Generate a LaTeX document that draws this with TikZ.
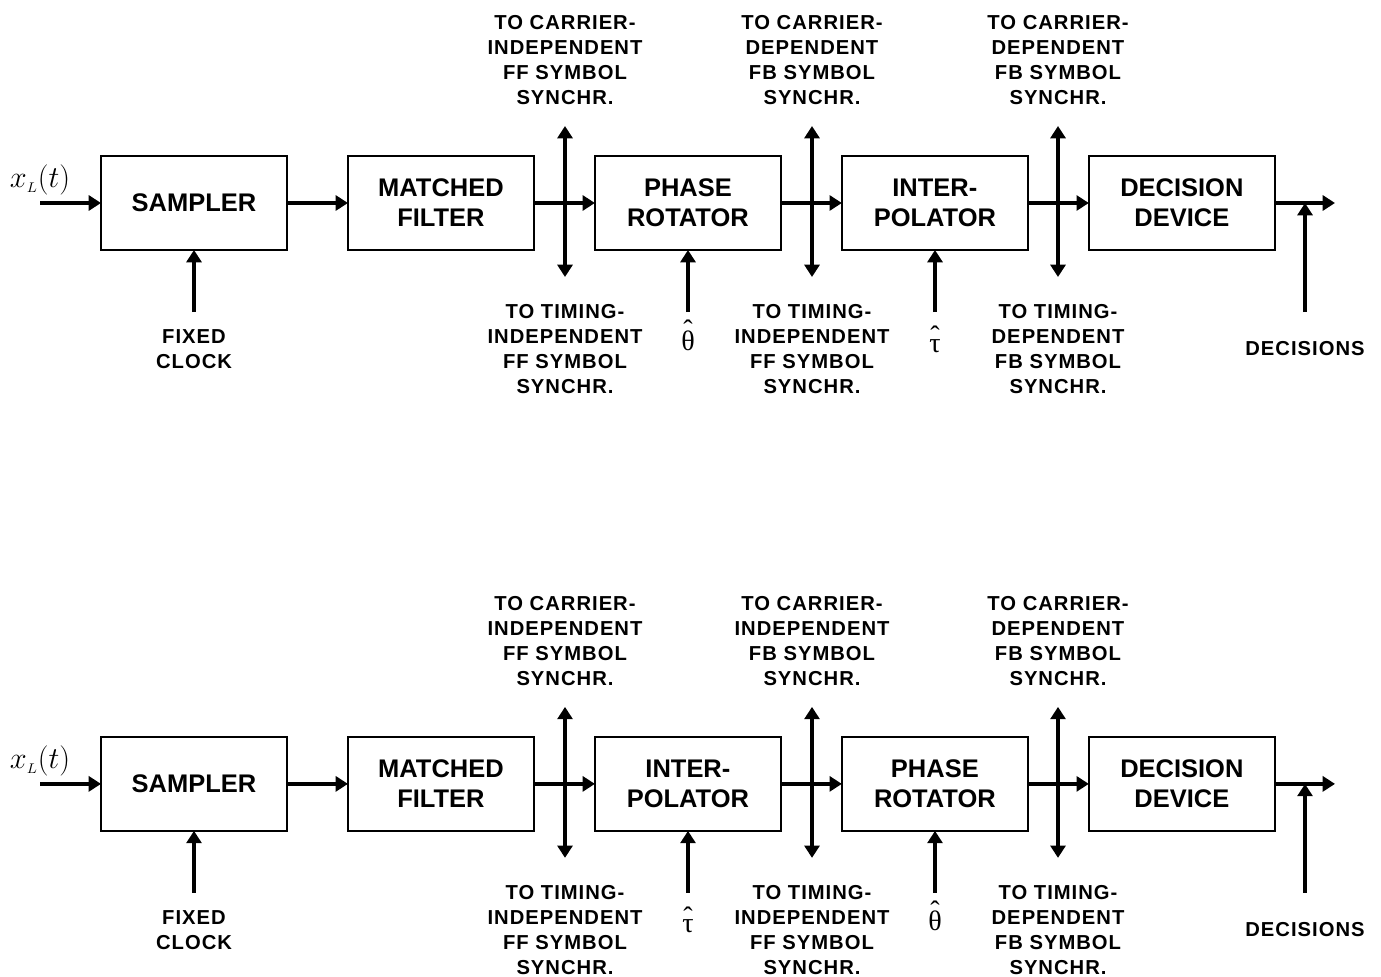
\documentclass[tikz,border=0pt]{standalone}
\usepackage{fontspec}
\setmainfont{Liberation Sans}
\newfontfamily\greekfont{Liberation Serif}
\usetikzlibrary{arrows.meta,positioning}

\tikzset{
  blk/.style={draw, line width=1.3pt, outer sep=0pt, minimum width=3.72cm,
    minimum height=1.88cm, align=center, font=\bfseries\fontsize{14.5}{17}\selectfont},
  lbl/.style={align=center, inner sep=0pt,
    font=\bfseries\addfontfeature{LetterSpace=5}\fontsize{11.5}{14.2}\selectfont},
  sig/.style={line width=2pt},
  est/.style={inner sep=0pt, anchor=base, font=\fontsize{16}{19}\selectfont},
  inp/.style={inner sep=0pt, font=\fontsize{17}{20}\selectfont},
}
% estimate symbol with a lifted circumflex
\newcommand{\esthat}[2]{{\greekfont\ooalign{#1\cr\hidewidth\raisebox{#2}{ˆ}\hidewidth\cr}}}

\begin{document}
\begin{tikzpicture}[x=0.02cm, y=-0.02cm, >={Triangle[length=7pt,width=8.5pt]},
    node distance=1.22cm]
  \useasboundingbox (0,0) rectangle (1381,976);

  % ---- first chain: phase rotator ahead of interpolator
  \node[blk] (sampA) at (194,203) {SAMPLER};
  \node[blk, right=of sampA] (mfA) {MATCHED\\FILTER};
  \node[blk, right=of mfA] (rotA) {PHASE\\ROTATOR};
  \node[blk, right=of rotA] (intA) {INTER-\\POLATOR};
  \node[blk, right=of intA] (decA) {DECISION\\DEVICE};

  % input signal and clock
  \coordinate (inA) at (40,203);
  \node[inp] (xA) at (40,180) {$x_{\scriptscriptstyle L}(t)$};
  \draw[sig,->] (inA) -- (sampA);
  \coordinate (clkA) at (194,312);
  \node[lbl] (fixA) at (194,349) {FIXED\\CLOCK};
  \draw[sig,->] (clkA) -- (clkA |- sampA.south);

  % chain links
  \draw[sig,->] (sampA) -- (mfA);
  \draw[sig,->] (mfA) -- (rotA);
  \draw[sig,->] (rotA) -- (intA);
  \draw[sig,->] (intA) -- (decA);
  \coordinate (outA) at (1335,203);
  \draw[sig,->] (decA) -- (outA);

  % taps to the synchronizers
  \coordinate (tapA1u) at (565,126); \coordinate (tapA1d) at (565,277);
  \coordinate (tapA2u) at (812,126); \coordinate (tapA2d) at (812,277);
  \coordinate (tapA3u) at (1058,126); \coordinate (tapA3d) at (1058,277);
  \draw[sig,<->] (tapA1d) -- (tapA1u);
  \draw[sig,<->] (tapA2d) -- (tapA2u);
  \draw[sig,<->] (tapA3d) -- (tapA3u);
  \node[lbl] (carA1) at (565,60) {TO CARRIER-\\INDEPENDENT\\FF SYMBOL\\SYNCHR.};
  \node[lbl] (carA2) at (812,60) {TO CARRIER-\\DEPENDENT\\FB SYMBOL\\SYNCHR.};
  \node[lbl] (carA3) at (1058,60) {TO CARRIER-\\DEPENDENT\\FB SYMBOL\\SYNCHR.};
  \node[lbl] (timA1) at (565,349) {TO TIMING-\\INDEPENDENT\\FF SYMBOL\\SYNCHR.};
  \node[lbl] (timA2) at (812,349) {TO TIMING-\\INDEPENDENT\\FF SYMBOL\\SYNCHR.};
  \node[lbl] (timA3) at (1058,349) {TO TIMING-\\DEPENDENT\\FB SYMBOL\\SYNCHR.};

  % estimates and decisions
  \coordinate (thA) at (688,312);
  \coordinate (taA) at (935,312);
  \draw[sig,->] (thA) -- (thA |- rotA.south);
  \draw[sig,->] (taA) -- (taA |- intA.south);
  \node[est] (thetaA) at (688,350) {\esthat{θ}{0.36em}};
  \node[est] (tauA) at (935,352) {\esthat{τ}{0.24em}};
  \coordinate (dsA) at (1305,312);
  \draw[sig,->] (dsA) -- (dsA |- outA);
  \node[lbl] (decsA) at (1305,349) {DECISIONS};

  % ---- second chain: interpolator ahead of phase rotator
  \begin{scope}[yshift=-11.62cm]
  \node[blk] (sampB) at (194,203) {SAMPLER};
  \node[blk, right=of sampB] (mfB) {MATCHED\\FILTER};
  \node[blk, right=of mfB] (intB) {INTER-\\POLATOR};
  \node[blk, right=of intB] (rotB) {PHASE\\ROTATOR};
  \node[blk, right=of rotB] (decB) {DECISION\\DEVICE};

  \coordinate (inB) at (40,203);
  \node[inp] (xB) at (40,180) {$x_{\scriptscriptstyle L}(t)$};
  \draw[sig,->] (inB) -- (sampB);
  \coordinate (clkB) at (194,312);
  \node[lbl] (fixB) at (194,349) {FIXED\\CLOCK};
  \draw[sig,->] (clkB) -- (clkB |- sampB.south);

  \draw[sig,->] (sampB) -- (mfB);
  \draw[sig,->] (mfB) -- (intB);
  \draw[sig,->] (intB) -- (rotB);
  \draw[sig,->] (rotB) -- (decB);
  \coordinate (outB) at (1335,203);
  \draw[sig,->] (decB) -- (outB);

  \coordinate (tapB1u) at (565,126); \coordinate (tapB1d) at (565,277);
  \coordinate (tapB2u) at (812,126); \coordinate (tapB2d) at (812,277);
  \coordinate (tapB3u) at (1058,126); \coordinate (tapB3d) at (1058,277);
  \draw[sig,<->] (tapB1d) -- (tapB1u);
  \draw[sig,<->] (tapB2d) -- (tapB2u);
  \draw[sig,<->] (tapB3d) -- (tapB3u);
  \node[lbl] (carB1) at (565,60) {TO CARRIER-\\INDEPENDENT\\FF SYMBOL\\SYNCHR.};
  \node[lbl] (carB2) at (812,60) {TO CARRIER-\\INDEPENDENT\\FB SYMBOL\\SYNCHR.};
  \node[lbl] (carB3) at (1058,60) {TO CARRIER-\\DEPENDENT\\FB SYMBOL\\SYNCHR.};
  \node[lbl] (timB1) at (565,349) {TO TIMING-\\INDEPENDENT\\FF SYMBOL\\SYNCHR.};
  \node[lbl] (timB2) at (812,349) {TO TIMING-\\INDEPENDENT\\FF SYMBOL\\SYNCHR.};
  \node[lbl] (timB3) at (1058,349) {TO TIMING-\\DEPENDENT\\FB SYMBOL\\SYNCHR.};

  \coordinate (taB) at (688,312);
  \coordinate (thB) at (935,312);
  \draw[sig,->] (taB) -- (taB |- intB.south);
  \draw[sig,->] (thB) -- (thB |- rotB.south);
  \node[est] (tauB) at (688,352) {\esthat{τ}{0.24em}};
  \node[est] (thetaB) at (935,350) {\esthat{θ}{0.36em}};
  \coordinate (dsB) at (1305,312);
  \draw[sig,->] (dsB) -- (dsB |- outB);
  \node[lbl] (decsB) at (1305,349) {DECISIONS};
  \end{scope}
\end{tikzpicture}
\end{document}
